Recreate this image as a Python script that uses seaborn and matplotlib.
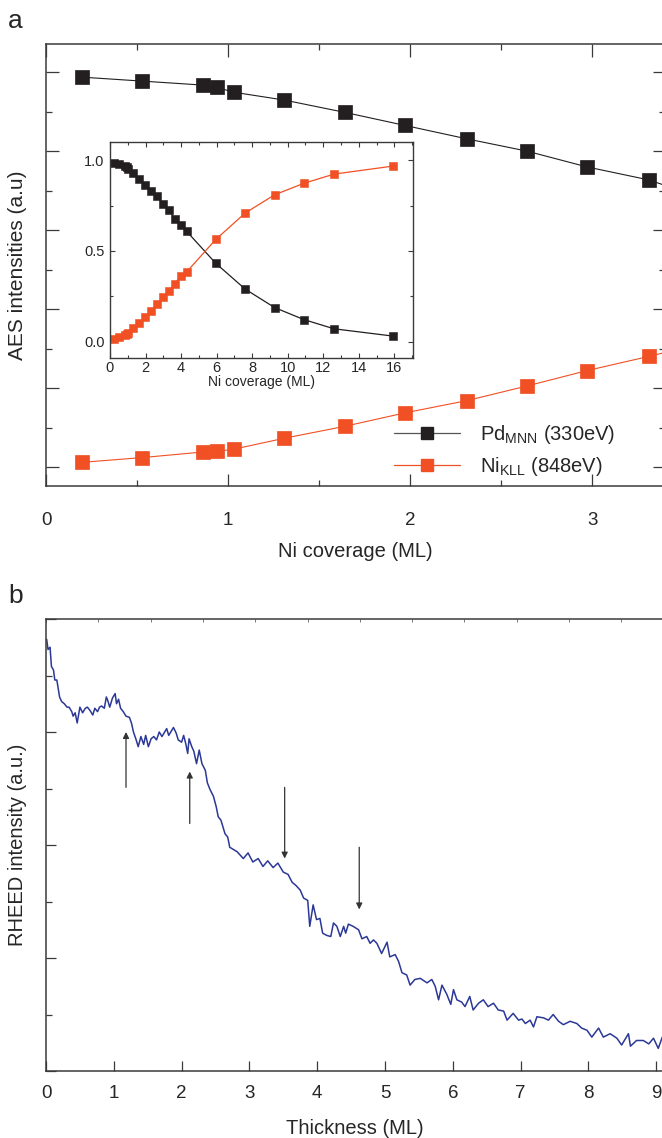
import matplotlib
matplotlib.use('Agg')
import matplotlib.pyplot as plt
from matplotlib.ticker import MultipleLocator, NullFormatter, FormatStrFormatter
import pandas as pd
import seaborn as sns

# Panel a: AES intensities vs Ni coverage (same data in main axes and inset)
coverage = [0.2, 0.53, 0.86, 0.94, 1.03, 1.31, 1.64, 1.97, 2.31, 2.64, 2.97, 3.31,
            3.64, 3.97, 4.31, 5.95, 7.6, 9.26, 10.9, 12.6, 15.9]
pd_mnn = [0.987, 0.977, 0.967, 0.961, 0.949, 0.929, 0.898, 0.865, 0.831, 0.800, 0.760, 0.727,
          0.676, 0.640, 0.608, 0.432, 0.290, 0.188, 0.122, 0.071, 0.031]
ni_kll = [0.012, 0.024, 0.038, 0.040, 0.045, 0.073, 0.103, 0.137, 0.168, 0.205, 0.244, 0.280,
          0.317, 0.363, 0.384, 0.563, 0.708, 0.809, 0.872, 0.923, 0.967]

# Panel b: RHEED intensity vs thickness
thickness = [0.01, 0.03, 0.06, 0.08, 0.11, 0.13, 0.16, 0.20, 0.23, 0.27, 0.31, 0.34, 0.38, 0.40,
             0.43, 0.46, 0.50, 0.54, 0.58, 0.61, 0.65, 0.69, 0.72, 0.76, 0.79, 0.82, 0.86, 0.89,
             0.91, 0.94, 0.98, 1.02, 1.04, 1.07, 1.10, 1.14, 1.18, 1.23, 1.26, 1.29, 1.33, 1.36,
             1.40, 1.44, 1.47, 1.51, 1.55, 1.59, 1.63, 1.67, 1.71, 1.74, 1.78, 1.81, 1.84, 1.88,
             1.92, 1.95, 2.00, 2.03, 2.06, 2.09, 2.11, 2.15, 2.18, 2.22, 2.26, 2.30, 2.35, 2.38,
             2.42, 2.47, 2.51, 2.54, 2.58, 2.61, 2.64, 2.68, 2.71, 2.82, 2.91, 2.98, 3.05, 3.13,
             3.20, 3.27, 3.35, 3.42, 3.50, 3.57, 3.63, 3.69, 3.75, 3.80, 3.86, 3.89, 3.94, 3.99,
             4.04, 4.08, 4.14, 4.20, 4.24, 4.29, 4.34, 4.39, 4.42, 4.46, 4.53, 4.61, 4.66, 4.73,
             4.78, 4.83, 4.88, 4.95, 5.03, 5.07, 5.15, 5.20, 5.25, 5.32, 5.37, 5.44, 5.52, 5.62,
             5.69, 5.74, 5.79, 5.84, 5.91, 5.97, 6.01, 6.06, 6.13, 6.18, 6.25, 6.30, 6.38, 6.45,
             6.52, 6.60, 6.67, 6.75, 6.80, 6.89, 6.97, 7.02, 7.07, 7.14, 7.19, 7.24, 7.34, 7.41,
             7.48, 7.56, 7.63, 7.73, 7.83, 7.90, 7.98, 8.05, 8.15, 8.22, 8.32, 8.42, 8.49, 8.59,
             8.62, 8.71, 8.81, 8.89, 8.96, 9.03, 9.09]
rheed = [3.82, 3.73, 3.75, 3.58, 3.55, 3.46, 3.46, 3.31, 3.27, 3.25, 3.22, 3.22, 3.18, 3.14,
         3.17, 3.08, 3.22, 3.17, 3.21, 3.22, 3.19, 3.15, 3.21, 3.18, 3.22, 3.23, 3.21, 3.31,
         3.28, 3.22, 3.30, 3.34, 3.25, 3.29, 3.21, 3.18, 3.14, 3.13, 3.08, 3.00, 2.93, 2.87,
         2.96, 2.89, 2.97, 2.87, 2.94, 2.96, 2.93, 3.00, 2.96, 2.99, 3.03, 2.97, 3.00, 3.04,
         2.99, 2.93, 2.91, 2.97, 2.90, 2.81, 2.94, 2.87, 2.83, 2.72, 2.84, 2.72, 2.66, 2.55,
         2.49, 2.43, 2.34, 2.25, 2.22, 2.16, 2.10, 2.07, 1.98, 1.94, 1.88, 1.93, 1.85, 1.88,
         1.81, 1.86, 1.80, 1.84, 1.76, 1.74, 1.67, 1.64, 1.60, 1.53, 1.51, 1.28, 1.47, 1.34,
         1.35, 1.22, 1.20, 1.19, 1.31, 1.28, 1.19, 1.28, 1.22, 1.30, 1.28, 1.25, 1.17, 1.19,
         1.13, 1.16, 1.13, 1.04, 1.14, 1.01, 1.03, 0.97, 0.87, 0.85, 0.76, 0.81, 0.82, 0.78,
         0.81, 0.75, 0.63, 0.76, 0.68, 0.59, 0.72, 0.63, 0.61, 0.57, 0.66, 0.54, 0.60, 0.63,
         0.57, 0.60, 0.54, 0.53, 0.45, 0.51, 0.45, 0.46, 0.42, 0.45, 0.39, 0.48, 0.47, 0.45,
         0.50, 0.44, 0.41, 0.44, 0.42, 0.38, 0.36, 0.30, 0.38, 0.30, 0.33, 0.29, 0.23, 0.33,
         0.22, 0.27, 0.27, 0.24, 0.29, 0.20, 0.30]

# arrows: thickness position, tail, tip
arrow_x = [1.18, 2.12, 3.52, 4.62]
arrow_tail = [2.51, 2.19, 2.51, 1.98]
arrow_tip = [3.00, 2.65, 1.88, 1.43]

BLACK = '#231f20'
ORANGE = '#f05024'
BLUE = '#2b3896'
SPINE = '#3a3a3a'

sns.set_style('ticks')
plt.rcParams['font.family'] = ['Liberation Sans', 'DejaVu Sans']
plt.rcParams['mathtext.fontset'] = 'custom'
plt.rcParams['mathtext.rm'] = 'Liberation Sans'
plt.rcParams['mathtext.default'] = 'regular'

W, H = 662, 1138
fig = plt.figure(figsize=(W / 100, H / 100), dpi=100)


def px_axes(left, top, right, bottom):
    return fig.add_axes([left / W, 1 - bottom / H, (right - left) / W, (bottom - top) / H])


def style_spines(ax, lw=1.1):
    for s in ax.spines.values():
        s.set_color(SPINE)
        s.set_linewidth(lw)


aes = pd.DataFrame({'coverage': coverage, 'Pd': pd_mnn, 'Ni': ni_kll})
rh = pd.DataFrame({'thickness': thickness, 'rheed': rheed})

# ---- panel a, main axes ----
ax = px_axes(46, 44, 665, 486)
sns.lineplot(data=aes, x='coverage', y='Pd', ax=ax, color=BLACK, lw=0.8, marker='s',
             markersize=9.5, mec=BLACK, mew=0.5, estimator=None, sort=False)
sns.lineplot(data=aes, x='coverage', y='Ni', ax=ax, color=ORANGE, lw=0.8, marker='s',
             markersize=9.5, mec=ORANGE, mew=0.5, estimator=None, sort=False)
ax.set_xlim(0, 3.4)
ax.set_ylim(-0.048, 1.071)
ax.xaxis.set_major_locator(MultipleLocator(1))
ax.xaxis.set_minor_locator(MultipleLocator(0.5))
ax.yaxis.set_major_locator(MultipleLocator(0.2))
ax.yaxis.set_minor_locator(MultipleLocator(0.1))
ax.yaxis.set_major_formatter(NullFormatter())
ax.tick_params(which='both', direction='in', top=True, right=True, color=SPINE,
               width=0.9, labelsize=13.5)
ax.tick_params(axis='x', pad=19)
ax.tick_params(which='major', length=9)
ax.tick_params(which='minor', length=4.5)
style_spines(ax)
ax.set_xlabel('Ni coverage (ML)', fontsize=14.5, labelpad=9)
ax.set_ylabel('AES intensities (a.u)', fontsize=15)
ax.yaxis.set_label_coords(-0.03, 0.5)

h_pd, = ax.plot([], [], color='#555555', lw=0.9, marker='s', markersize=9, mfc=BLACK, mec=BLACK)
h_ni, = ax.plot([], [], color=ORANGE, lw=0.9, marker='s', markersize=9, mfc=ORANGE, mec=ORANGE)
ax.legend([h_pd, h_ni], ['Pd$_{MNN}$ (330eV)', 'Ni$_{KLL}$ (848eV)'], loc='upper left',
          bbox_to_anchor=(0.562, 0.142), frameon=False, fontsize=14.5, handlelength=3.3,
          handletextpad=1.0, labelspacing=0.45, borderaxespad=0, borderpad=0)

# ---- panel a, inset ----
ins = px_axes(110, 142, 413, 358)
sns.lineplot(data=aes, x='coverage', y='Pd', ax=ins, color=BLACK, lw=0.9, marker='s',
             markersize=6.2, mec=BLACK, mew=0.4, estimator=None, sort=False)
sns.lineplot(data=aes, x='coverage', y='Ni', ax=ins, color=ORANGE, lw=0.9, marker='s',
             markersize=6.2, mec=ORANGE, mew=0.4, estimator=None, sort=False)
ins.set_xlim(0, 17.05)
ins.set_ylim(-0.09, 1.1)
ins.xaxis.set_major_locator(MultipleLocator(2))
ins.xaxis.set_minor_locator(MultipleLocator(1))
ins.yaxis.set_major_locator(MultipleLocator(0.5))
ins.yaxis.set_minor_locator(MultipleLocator(0.25))
ins.yaxis.set_major_formatter(FormatStrFormatter('%.1f'))
ins.tick_params(which='both', direction='in', top=True, right=True, color=SPINE,
                width=0.8, labelsize=10.5)
ins.tick_params(axis='x', pad=2)
ins.tick_params(axis='y', pad=4)
ins.tick_params(which='major', length=3.5)
ins.tick_params(which='minor', length=2)
style_spines(ins, 1.0)
ins.set_xlabel('Ni coverage (ML)', fontsize=10, labelpad=0)
ins.set_ylabel('')

# ---- panel b ----
bx = px_axes(46, 619, 663, 1071)
sns.lineplot(data=rh, x='thickness', y='rheed', ax=bx, color=BLUE, lw=1.1,
             estimator=None, sort=False)
bx.set_xlim(0, 9.1)
bx.set_ylim(0, 4)
bx.xaxis.set_major_locator(MultipleLocator(1))
bx.yaxis.set_major_locator(MultipleLocator(1))
bx.yaxis.set_minor_locator(MultipleLocator(0.5))
bx.yaxis.set_major_formatter(NullFormatter())
bx.tick_params(which='both', direction='in', color=SPINE, width=0.9, labelsize=13.5, pad=10)
bx.tick_params(which='major', length=7)
bx.tick_params(which='minor', length=4.5)
style_spines(bx)
bx.spines['right'].set_visible(False)
bx.set_xlabel('Thickness (ML)', fontsize=14.5, labelpad=12)
bx.set_ylabel('RHEED intensity (a.u.)', fontsize=14.5)
bx.yaxis.set_label_coords(-0.03, 0.5)
top = bx.secondary_xaxis('top')
top.set_xticks([k * 0.7714 for k in range(12)])
top.tick_params(direction='in', length=2.5, width=0.7, color='#777777', labeltop=False)
top.spines['top'].set_visible(False)

for xa, yt, yh in zip(arrow_x, arrow_tail, arrow_tip):
    bx.annotate('', xy=(xa, yh), xytext=(xa, yt),
                arrowprops=dict(arrowstyle='-|>', color='#333333', lw=0.9,
                                mutation_scale=9, shrinkA=0, shrinkB=0))

fig.text(8 / W, 1 - 28 / H, 'a', fontsize=19, ha='left', va='baseline')
fig.text(8 / W, 1 - 603 / H, 'b', fontsize=19, ha='left', va='baseline')

fig.savefig('out.png', dpi=100)
